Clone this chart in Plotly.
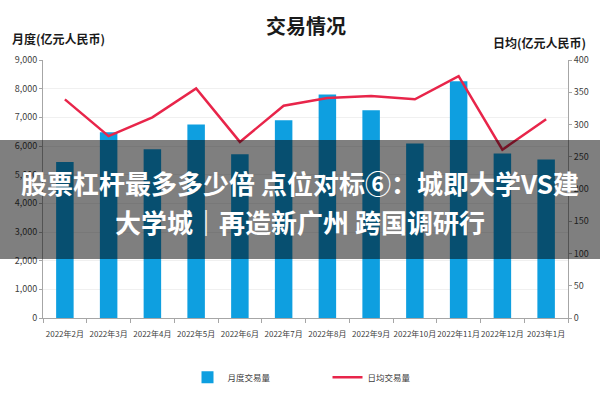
import plotly.graph_objects as go

months = ["2022年2月", "2022年3月", "2022年4月", "2022年5月", "2022年6月", "2022年7月",
          "2022年8月", "2022年9月", "2022年10月", "2022年11月", "2022年12月", "2023年1月"]
monthly_volume = [5440, 6480, 5890, 6750, 5710, 6900, 7800, 7250, 6090, 8260, 5740, 5530]
daily_volume = [339, 282, 311, 356, 273, 329, 341, 344, 339, 375, 261, 308]

left_ticks = [0, 1000, 2000, 3000, 4000, 5000, 6000, 7000, 8000, 9000]
left_ticktext = ["0", "1,000", "2,000", "3,000", "4,000", "5,000", "6,000", "7,000", "8,000", "9,000"]
right_ticks = [0, 50, 100, 150, 200, 250, 300, 350, 400]

font_cjk = "Noto Sans CJK SC"
font_narrow = "Liberation Sans Narrow, Noto Sans CJK SC"
bar_color = "#0E9FE0"
line_color = "#E8254A"
axis_color = "#A6A6A6"

fig = go.Figure()
fig.add_trace(go.Bar(x=months, y=monthly_volume, name="月度交易量",
                     marker=dict(color=bar_color, line_width=0)))
fig.add_trace(go.Scatter(x=months, y=daily_volume, name="日均交易量", yaxis="y2",
                         mode="lines", line=dict(color=line_color, width=2.5)))

fig.update_layout(
    width=600, height=400,
    margin=dict(l=43, r=32, t=60, b=82, autoexpand=False),
    paper_bgcolor="white", plot_bgcolor="white",
    font=dict(family=font_narrow, size=9, color="#404040"),
    bargap=0.6,
    showlegend=True,
    legend=dict(orientation="h", x=0.5 + 22 / 525, xanchor="center", y=-0.23, yanchor="middle",
                entrywidth=95, font=dict(size=8.5, color="#404040")),
    xaxis=dict(type="category", showline=True, linecolor=axis_color, ticks="outside",
               tickson="boundaries", ticklen=4, tickcolor=axis_color, showgrid=False,
               tickangle=0, automargin=False, ticklabelstandoff=8, tickfont=dict(size=8)),
    yaxis=dict(range=[0, 9000], tickvals=left_ticks, ticktext=left_ticktext,
               showline=True, linecolor=axis_color, ticks="outside", ticklen=3,
               tickcolor=axis_color, gridcolor="#F0F0F0", zeroline=False,
               automargin=False, tickfont=dict(size=9)),
    yaxis2=dict(range=[0, 400], tickvals=right_ticks, overlaying="y", side="right",
                showline=True, linecolor=axis_color, ticks="outside", ticklen=3,
                tickcolor=axis_color, showgrid=False, zeroline=False,
                automargin=False, tickfont=dict(size=9)),
)

# titles
fig.add_annotation(text="<b>交易情况</b>", xref="paper", yref="paper", x=0.5, y=1,
                   yanchor="middle", yshift=35, showarrow=False,
                   font=dict(family=font_cjk, size=20, color="#1a1a1a"))
fig.add_annotation(text="<b>月度(亿元人民币)</b>", xref="paper", yref="paper", x=0, xshift=-33,
                   xanchor="left", y=1, yanchor="middle", yshift=22, showarrow=False,
                   font=dict(family=font_cjk, size=12, color="#1a1a1a"))
fig.add_annotation(text="<b>日均(亿元人民币)</b>", xref="paper", yref="paper", x=1, xshift=20,
                   xanchor="right", y=1, yanchor="middle", yshift=18, showarrow=False,
                   font=dict(family=font_cjk, size=12, color="#1a1a1a"))

# dark overlay band with headline text
fig.add_shape(type="rect", xref="paper", yref="paper", x0=-0.1, x1=1.1,
              y0=(318 - 259) / 258, y1=(318 - 140) / 258,
              fillcolor="rgba(0,0,0,0.5)", line_width=0, layer="above")
fig.add_annotation(text="<b>股票杠杆最多多少倍 点位对标⑥：城即大学VS建</b>",
                   xref="paper", yref="paper", x=(300 - 43) / 525, y=(318 - 182) / 258,
                   yanchor="middle", showarrow=False,
                   font=dict(family=font_cjk, size=26, color="white"))
fig.add_annotation(text="<b>大学城｜再造新广州 跨国调研行</b>",
                   xref="paper", yref="paper", x=(300 - 43) / 525, y=(318 - 221) / 258,
                   yanchor="middle", showarrow=False,
                   font=dict(family=font_cjk, size=26, color="white"))

fig.write_html("out.html", config={"displayModeBar": False},
               post_script="document.body.style.margin='0';")
